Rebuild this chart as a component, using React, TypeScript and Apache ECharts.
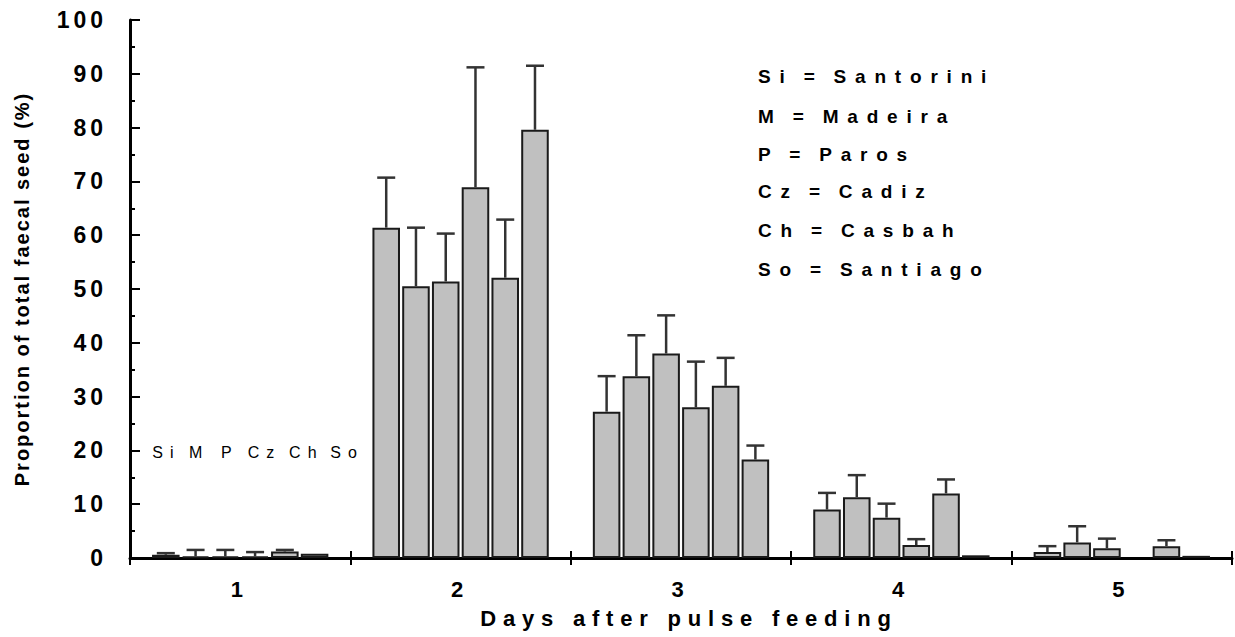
import React, { useEffect, useRef } from "react";
import * as echarts from "echarts";

const days = ["1", "2", "3", "4", "5"];
const populations = ["Si", "M", "P", "Cz", "Ch", "So"];
const legendLines = [
  "Si = Santorini",
  "M = Madeira",
  "P = Paros",
  "Cz = Cadiz",
  "Ch = Casbah",
  "So = Santiago",
];
const yTicks = [0, 10, 20, 30, 40, 50, 60, 70, 80, 90, 100];

// mean proportion (%) per day, and standard error (upward bar)
const siMean = [0.6, 61.4, 27.2, 9.0, 1.1];
const siSE = [0.3, 9.3, 6.6, 3.1, 1.1];
const mMean = [0.3, 50.5, 33.8, 11.3, 2.9];
const mSE = [1.2, 10.9, 7.6, 4.1, 3.0];
const pMean = [0.3, 51.4, 38.0, 7.5, 1.8];
const pSE = [1.2, 8.9, 7.1, 2.6, 1.8];
const czMean = [0.3, 68.9, 28.0, 2.4, null];
const czSE = [0.8, 22.3, 8.5, 1.1, null];
const chMean = [1.2, 52.1, 32.0, 12.0, 2.2];
const chSE = [0.3, 10.8, 5.2, 2.6, 1.1];
const soMean = [0.8, 79.6, 18.3, 0.5, 0.4];
const soSE = [null, 11.9, 2.6, null, null];

const means = [siMean, mMean, pMean, czMean, chMean, soMean];
const ses = [siSE, mSE, pSE, czSE, chSE, soSE];

// label placement tweaks for the day-1 population labels (style only)
const labelShift = [0.5, 3.5, 4.5, 9.5, 21.5, 32.5];
const legendTop = [67, 107, 145, 182, 221, 260];

const FONT = '"Liberation Sans", Arial, sans-serif';
const CAT_GAP = 0.2;
const BAR_GAP = 0.08;

export default function App() {
  const ref = useRef<HTMLDivElement>(null);
  useEffect(() => {
    if (!ref.current) return;
    const chart = echarts.init(ref.current, null, { renderer: "svg" });
    const N = populations.length;

    const barSeries = populations.map((name, s) => ({
      type: "bar",
      name,
      xAxisIndex: 0,
      yAxisIndex: 0,
      barCategoryGap: CAT_GAP * 100 + "%",
      barGap: BAR_GAP * 100 + "%",
      itemStyle: { color: "#c0c0c0", borderColor: "#1a1a1a", borderWidth: 2 },
      data: means[s].map((v, d) =>
        d === 0
          ? {
              value: v,
              label: {
                show: true,
                formatter: name,
                position: "insideBottom",
                offset: [labelShift[s], -93],
                fontSize: 16,
                fontFamily: FONT,
                color: "#000",
              },
            }
          : v
      ),
      z: 2,
    }));

    const errSeries = populations.map((name, s) => ({
      type: "custom",
      name: name + " SE",
      xAxisIndex: 0,
      yAxisIndex: 0,
      z: 3,
      encode: { x: 0, y: [1, 2] },
      data: means[s]
        .map((v, d) =>
          v == null || ses[s][d] == null ? null : [d, v, v + (ses[s][d] as number)]
        )
        .filter((x) => x !== null),
      renderItem: (params: any, api: any) => {
        const cat = api.value(0);
        const p0 = api.coord([cat, api.value(1)]);
        const p1 = api.coord([cat, api.value(2)]);
        const catW = api.size([1, 0])[0];
        const used = catW * (1 - CAT_GAP);
        const barW = used / (N + (N - 1) * BAR_GAP);
        const x = p0[0] - used / 2 + barW / 2 + s * barW * (1 + BAR_GAP);
        const st = { stroke: "#333", lineWidth: 2.5 };
        return {
          type: "group",
          children: [
            { type: "line", shape: { x1: x, y1: p0[1], x2: x, y2: p1[1] }, style: st },
            { type: "line", shape: { x1: x - 9, y1: p1[1], x2: x + 9, y2: p1[1] }, style: st },
          ],
        };
      },
    }));

    const option: any = {
      animation: false,
      backgroundColor: "#fff",
      grid: { left: 130, right: 3, top: 20, bottom: 79, containLabel: false },
      xAxis: [
        {
          type: "category",
          data: days,
          boundaryGap: true,
          axisLine: { lineStyle: { color: "#000", width: 3 } },
          axisTick: { show: true, inside: false, length: 7, lineStyle: { color: "#000", width: 2 } },
          axisLabel: {
            color: "#000",
            fontSize: 22,
            fontWeight: "bold",
            fontFamily: FONT,
            margin: 20,
          },
          name: "Days after pulse feeding",
          nameLocation: "middle",
          nameGap: 49,
          nameTextStyle: {
            color: "#000",
            fontSize: 22,
            fontWeight: "bold",
            fontFamily: FONT,
            padding: [0, 0, 0, 16],
          },
          splitLine: { show: false },
        },
        {
          type: "category",
          data: days,
          position: "bottom",
          boundaryGap: true,
          axisLine: { show: false },
          axisTick: { show: true, inside: true, length: 7, lineStyle: { color: "#000", width: 2 } },
          axisLabel: { show: false },
          splitLine: { show: false },
        },
      ],
      yAxis: {
        type: "value",
        min: yTicks[0],
        max: yTicks[yTicks.length - 1],
        interval: yTicks[1] - yTicks[0],
        axisLine: { show: true, lineStyle: { color: "#000", width: 3 } },
        axisTick: { show: true, inside: true, length: 10, lineStyle: { color: "#000", width: 2 } },
        minorTick: { show: true, splitNumber: 2, length: 5, lineStyle: { color: "#000", width: 2 } },
        splitLine: { show: false },
        axisLabel: {
          color: "#000",
          fontSize: 23,
          fontWeight: "bold",
          fontFamily: FONT,
          margin: 23,
        },
        name: "Proportion of total faecal seed (%)",
        nameLocation: "middle",
        nameRotate: 90,
        nameGap: 98,
        nameTextStyle: { color: "#000", fontSize: 20, fontWeight: "bold", fontFamily: FONT },
      },
      graphic: legendLines.map((t, i) => ({
        type: "text",
        left: 758,
        top: legendTop[i],
        style: {
          text: t,
          fill: "#000",
          fontSize: 19,
          fontWeight: "bold",
          fontFamily: FONT,
        },
      })),
      series: [...barSeries, ...errSeries],
    };
    chart.setOption(option);
    return () => chart.dispose();
  }, []);

  return (
    <>
      <style>{`
        #chartbox text[style*="23px"] { letter-spacing: 4px; }
        #chartbox text[style*="22px"] { letter-spacing: 6.8px; }
        #chartbox text[style*="20px"] { letter-spacing: 2px; }
        #chartbox text[style*="19px"] { letter-spacing: 8.8px; word-spacing: -4px; }
        #chartbox text[style*="16px"] { letter-spacing: 7px; }
      `}</style>
      <div
        id="chartbox"
        ref={ref}
        style={{ position: "absolute", left: 0, top: 0, width: 1235, height: 637, background: "#fff" }}
      />
    </>
  );
}
